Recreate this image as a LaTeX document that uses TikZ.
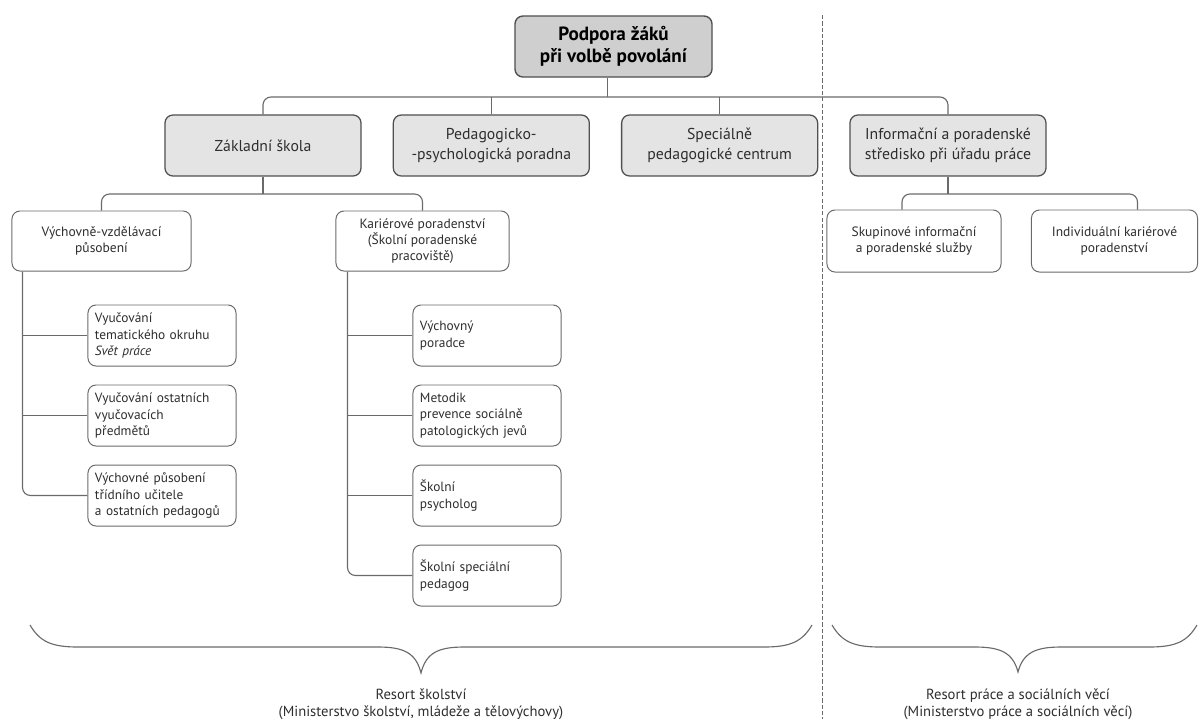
\documentclass[tikz,border=0pt]{standalone}
\usepackage{fontspec}
\setmainfont{PT Sans}
\usetikzlibrary{shapes,arrows,positioning}
\definecolor{boxline}{HTML}{505050}
\definecolor{linegray}{HTML}{6A6A6A}
\definecolor{topfill}{HTML}{CFCFCF}
\definecolor{midfill}{HTML}{E4E4E4}
\definecolor{txtgray}{HTML}{2E2E2E}
\tikzstyle{topbox} = [rectangle, rounded corners=0.2cm, minimum width=4.925cm, minimum height=1.525cm, align=center, draw=boxline, line width=1pt, fill=topfill, text=black, font=\fontsize{13.6}{15.5}\selectfont\bfseries]
\tikzstyle{orgbox} = [rectangle, rounded corners=0.2cm, minimum width=4.9cm, minimum height=1.525cm, align=center, draw=boxline, line width=0.9pt, fill=midfill, text=txtgray, font=\fontsize{11.2}{14.5}\selectfont]
\tikzstyle{subbox} = [rectangle, rounded corners=0.2cm, minimum height=1.5cm, align=center, draw=boxline!85, line width=0.7pt, fill=white, text=txtgray, font=\fontsize{9.6}{11.6}\selectfont]
\tikzstyle{leafbox} = [subbox, minimum width=3.7cm, text width=3.35cm, inner xsep=0.175cm, align=left, minimum height=1.525cm, font=\fontsize{9.5}{11.6}\selectfont]
\tikzstyle{restext} = [align=center, text=txtgray, font=\fontsize{10.4}{12.2}\selectfont]
\tikzstyle{link} = [draw=linegray, line width=0.8pt, rounded corners=0.2cm]
\tikzstyle{brace} = [draw=linegray, line width=0.8pt]

\begin{document}
\begin{tikzpicture}[x=0.025cm, y=-0.025cm, node distance=0.45cm]
        \useasboundingbox (0,0) rectangle (1199,719);
        \node (top) [topbox] at (613.5,46.5) {Podpora žáků\\při volbě povolání};
        \node (zs) [orgbox] at (263,145.5) {Základní škola};
        \node (ppp) [orgbox, right=0.775cm of zs] {Pedagogicko-\\-psychologická poradna};
        \node (spc) [orgbox, right=0.775cm of ppp] {Speciálně\\pedagogické centrum};
        \node (info) [orgbox, right=0.775cm of spc] {Informační a poradenské\\středisko při úřadu práce};
        \node (vyv) [subbox, minimum width=4.475cm] at (101.5,241) {Výchovně-vzdělávací\\působení};
        \node (kar) [subbox, minimum width=4.325cm] at (422.5,241) {Kariérové poradenství\\(Školní poradenské\\pracoviště)};
        \node (skup) [subbox, minimum width=4.35cm, minimum height=1.55cm] at (914,241) {Skupinové informační\\a poradenské služby};
        \node (indiv) [subbox, minimum width=4.15cm, minimum height=1.55cm] at (1114.5,241) {Individuální kariérové\\poradenství};
        \node (vp1) [leafbox] at (162,335.5) {Vyučování\\tematického okruhu\\\textit{Svět práce}};
        \node (vp2) [leafbox, below=of vp1] {Vyučování ostatních\\vyučovacích\\předmětů};
        \node (vp3) [leafbox, below=of vp2] {Výchovné působení\\třídního učitele\\a ostatních pedagogů};
        \node (kp1) [leafbox] at (487,335.5) {Výchovný\\poradce};
        \node (kp2) [leafbox, below=of kp1] {Metodik\\prevence sociálně\\patologických jevů};
        \node (kp3) [leafbox, below=of kp2] {Školní\\psycholog};
        \node (kp4) [leafbox, below=of kp3] {Školní speciální\\pedagog};
        \coordinate (barlevel) at (0,97);
        \coordinate (sublevel) at (0,194);
        \coordinate (topdrop) at ([xshift=-0.14cm]top.south);
        \draw [link] (topdrop) -- (topdrop |- barlevel);
        \draw [link] (zs.north) |- (topdrop |- barlevel) -| (info.north);
        \draw [link] (ppp.north) -- (ppp.north |- barlevel);
        \draw [link] (spc.north) -- (spc.north |- barlevel);
        \draw [link] (zs.south) -- (zs.south |- sublevel);
        \draw [link] (vyv.north) |- (zs.south |- sublevel) -| (kar.north);
        \draw [link] (info.south) -- (info.south |- sublevel);
        \draw [link] ([xshift=-0.3cm]skup.north) |- (info.south |- sublevel) -| ([xshift=0.575cm]indiv.north);
        \coordinate (ltrunk) at ([xshift=0.275cm]vyv.south west);
        \coordinate (ktrunk) at ([xshift=0.3cm]kar.south west);
        \draw [link] (ltrunk) |- (vp3.west);
        \foreach \n in {vp1,vp2}
            \draw [link] (ltrunk |- \n.west) -- (\n.west);
        \draw [link] (ktrunk) |- (kp4.west);
        \foreach \n in {kp1,kp2,kp3}
            \draw [link] (ktrunk |- \n.west) -- (\n.west);
        \draw [linegray, line width=0.7pt, dash pattern=on 3pt off 1.5pt] (822,15) -- (822,719);
        \draw [brace] (30,625) .. controls (40,642) and (52,647) .. (78,647) -- (378,647) .. controls (404,647) and (416,653) .. (421,673) .. controls (426,653) and (438,647) .. (464,647) -- (764,647) .. controls (790,647) and (802,642) .. (812,625);
        \draw [brace] (832,625) .. controls (842,642) and (854,647) .. (880,647) -- (975,647) .. controls (1001,647) and (1013,653) .. (1018,672) .. controls (1023,653) and (1035,647) .. (1061,647) -- (1149,647) .. controls (1175,647) and (1187,642) .. (1197,625);
        \node (edu) [restext] at (421,704) {Resort školství\\(Ministerstvo školství, mládeže a tělovýchovy)};
        \node (lab) [restext] at (1018,704) {Resort práce a sociálních věcí\\(Ministerstvo práce a sociálních věcí)};
    \end{tikzpicture}
\end{document}
